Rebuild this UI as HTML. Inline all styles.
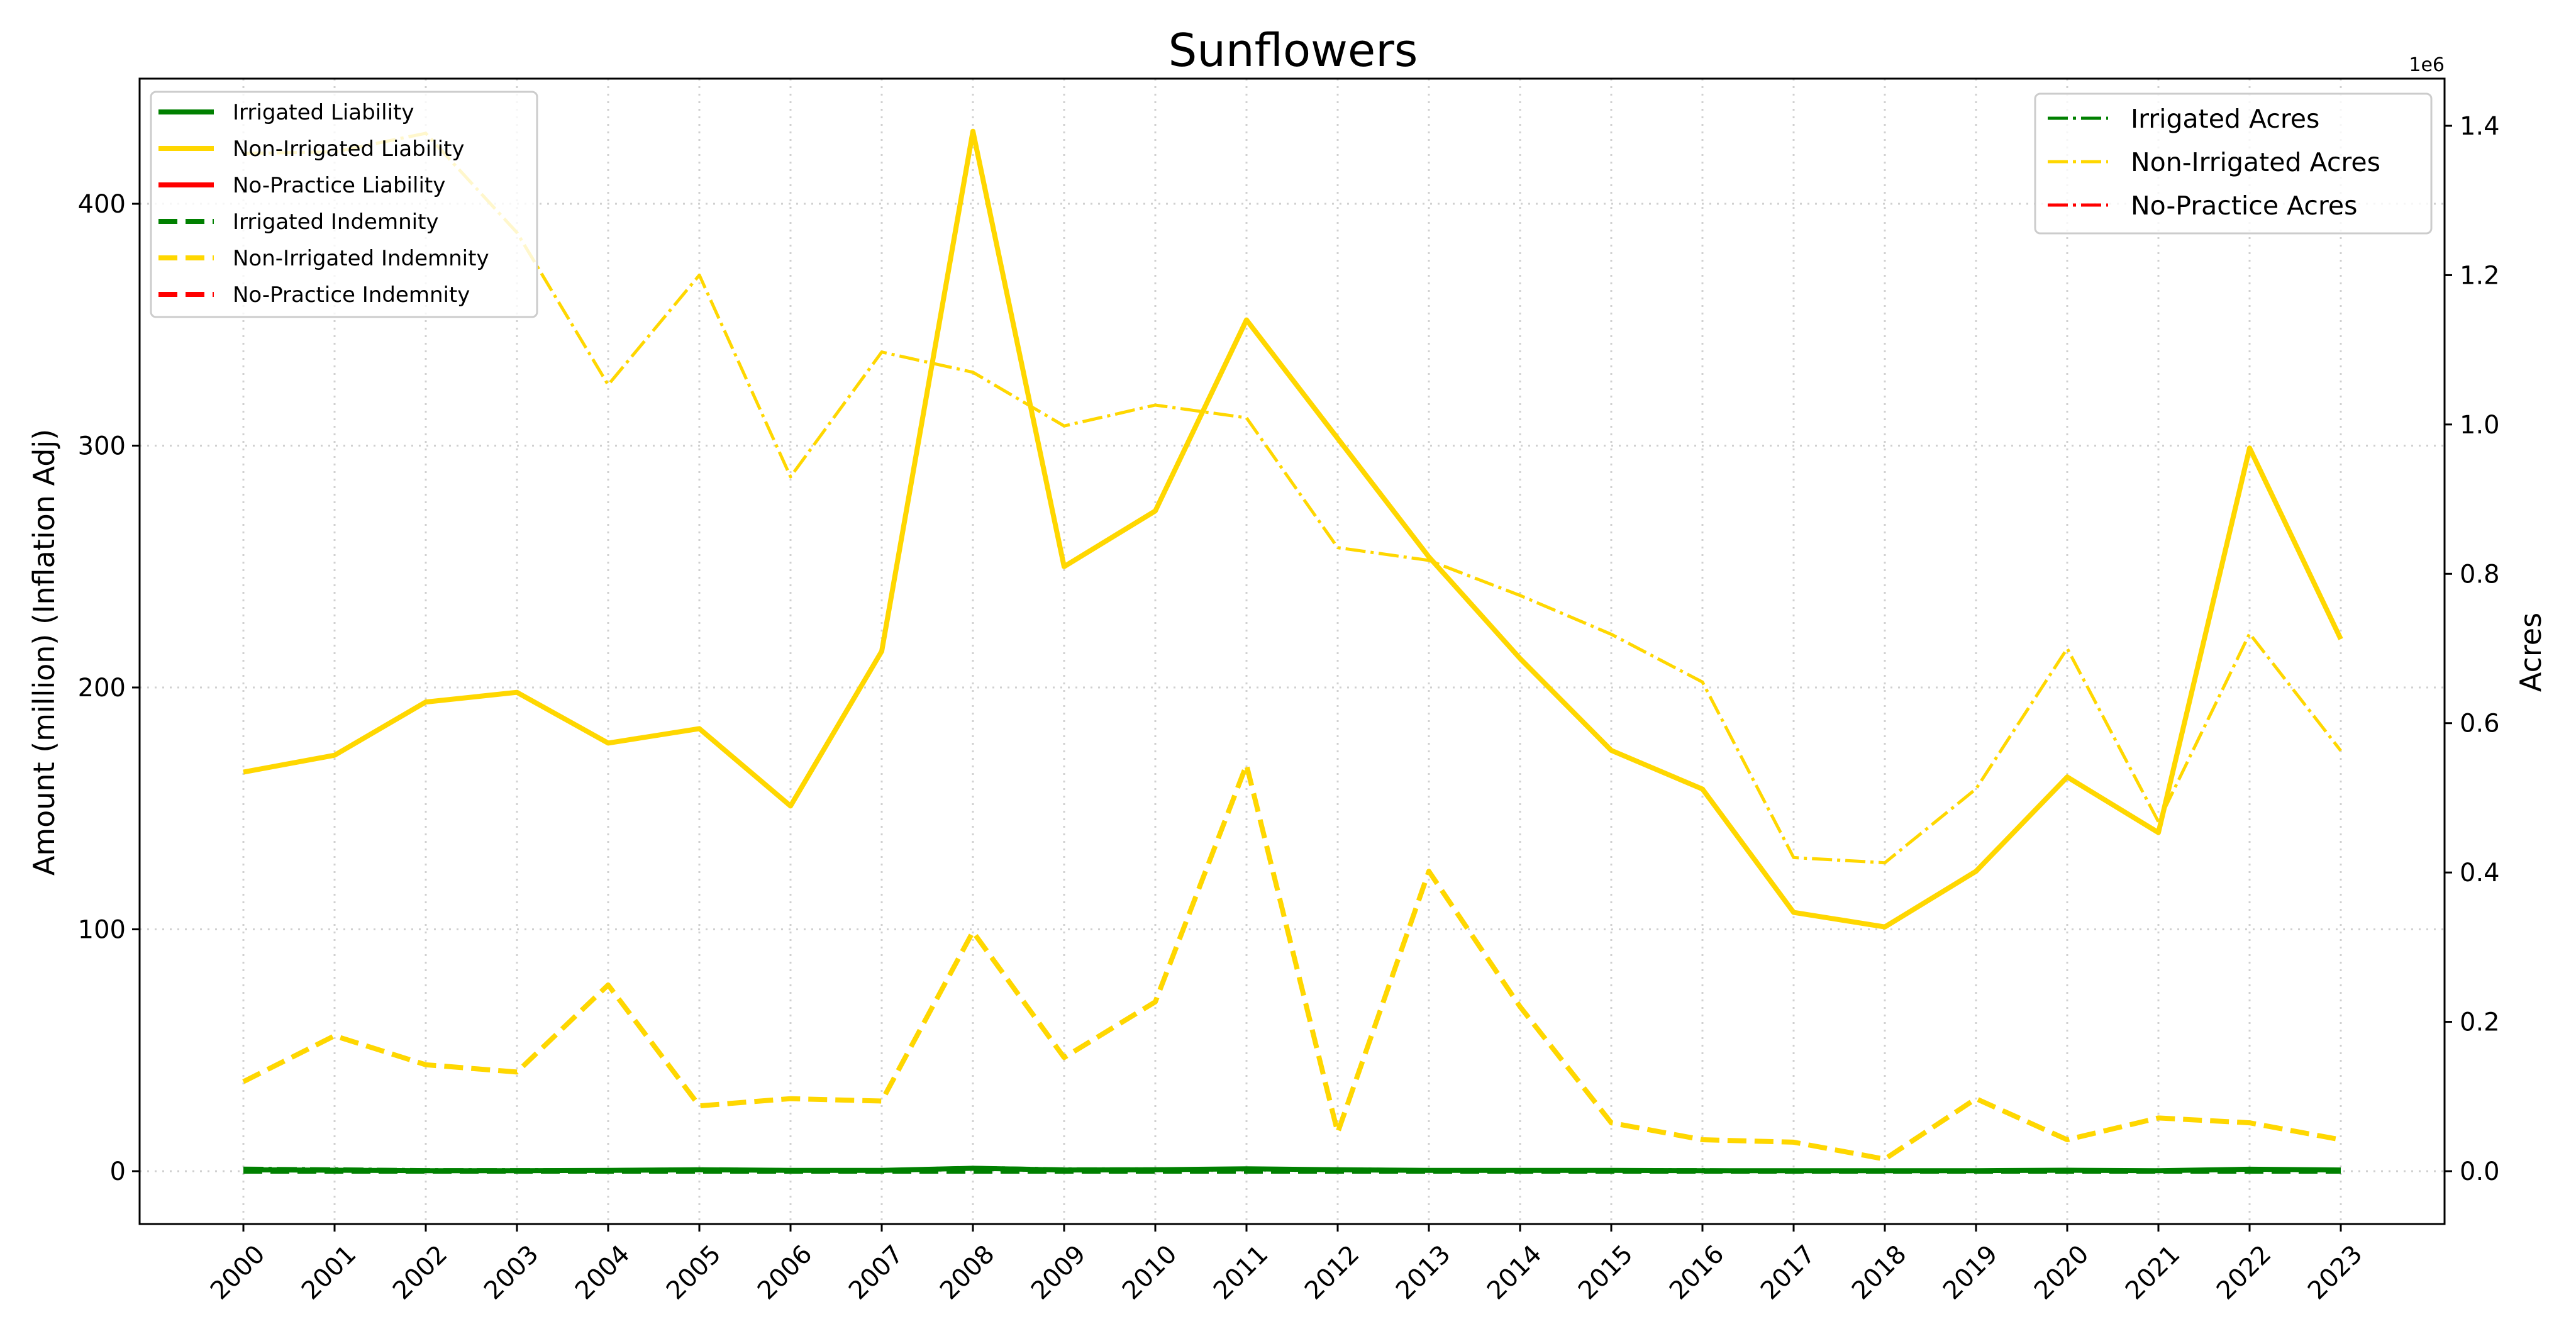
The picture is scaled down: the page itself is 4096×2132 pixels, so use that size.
<!DOCTYPE html>
<html><head><meta charset="utf-8"><style>
html,body{margin:0;padding:0;background:#fff;}
svg{display:block;font-family:"DejaVu Sans","Liberation Sans",sans-serif;}
</style></head><body>
<svg id="chart" width="4096" height="2132" viewBox="0 0 4096 2132" xmlns="http://www.w3.org/2000/svg">
<rect width="4096" height="2132" fill="#fff"/>
<text x="2056" y="105" font-size="72" text-anchor="middle">Sunflowers</text>
<g id="grid"></g>
<g id="series"></g>
<rect x="222" y="125" width="3665" height="1821" fill="none" stroke="#000" stroke-width="3"/>
<g id="axes"></g>
<text transform="translate(86,1037) rotate(-90)" font-size="46" text-anchor="middle">Amount (million) (Inflation Adj)</text>
<text transform="translate(4040,1037) rotate(-90)" font-size="46" text-anchor="middle">Acres</text>
<text x="3887" y="113" font-size="30" text-anchor="end">1e6</text>
<g id="legend1"></g>
<g id="legend2"></g>
</svg>
<script>
const years = [2000,2001,2002,2003,2004,2005,2006,2007,2008,2009,2010,2011,2012,2013,2014,2015,2016,2017,2018,2019,2020,2021,2022,2023];
const nonIrrLiability = [165,172,194,198,177,183,151,215,430,250,273,352,303,254,212,174,158,107,101,124,163,140,299,220];
const nonIrrIndemnity = [37,56,44,41,77,27,30,29,99,47,70,168,16,124,68,20,13,12,5,30,13,22,20,13];
const irrLiability = [0.6,0.4,0.2,0.2,0.3,0.6,0.3,0.3,1.2,0.5,0.6,1.0,0.6,0.3,0.3,0.3,0.2,0.2,0.2,0.2,0.4,0.2,0.8,0.5];
const irrIndemnity = [0,0,0,0,0,0,0,0,0,0,0,0,0,0,0,0,0,0,0,0,0,0,0,0];
const nonIrrAcres = [1363000,1365000,1390000,1257000,1053000,1200000,930000,1097000,1070000,998000,1026000,1009000,835000,818000,771000,719000,655000,420000,413000,512000,700000,468000,720000,563000];
const irrAcres = [4000,3000,2000,2000,2000,3000,2000,2000,5000,3000,3000,4000,3000,2000,2000,2000,2000,1000,1000,1000,2000,1000,3000,2000];
const leftTicks = [0,100,200,300,400];
const rightTicks = [0,200000,400000,600000,800000,1000000,1200000,1400000];
const rightTickLabels = ["0.0","0.2","0.4","0.6","0.8","1.0","1.2","1.4"];

const NS="http://www.w3.org/2000/svg";
const X0=222,X1=3887,Y0=125,Y1=1946;
const x = i => 387 + i*(3722-387)/23;
const yL = v => 1862 - v*(1862-324)/400;
const yR = v => 1862 - v*(1862-200)/1400000;
function mk(tag, attrs, parent){const e=document.createElementNS(NS,tag);for(const k in attrs)e.setAttribute(k,attrs[k]);parent.appendChild(e);return e;}
const grid=document.getElementById('grid'), axes=document.getElementById('axes'), series=document.getElementById('series');

years.forEach((yr,i)=>{
  const gl=mk('line',{x1:x(i),x2:x(i),y1:Y0,y2:Y1,stroke:'#d0d0d0','stroke-width':3,'stroke-dasharray':'3,9'},grid);
  
  
  const tk=mk('line',{x1:x(i),x2:x(i),y1:Y1,y2:Y1+12,stroke:'#000','stroke-width':3},axes);
  
  
  const t=mk('text',{transform:`translate(${x(i)+16},${Y1+30}) rotate(-45)`,'font-size':40,'text-anchor':'end','dominant-baseline':'hanging'},axes);
  t.textContent=yr;
  
  
});
leftTicks.forEach(v=>{
  const gl=mk('line',{x1:X0,x2:X1,y1:yL(v),y2:yL(v),stroke:'#d0d0d0','stroke-width':3,'stroke-dasharray':'3,9'},grid);
  
  
  const tk=mk('line',{x1:X0-12,x2:X0,y1:yL(v),y2:yL(v),stroke:'#000','stroke-width':3},axes);
  
  
  const t=mk('text',{x:X0-22,y:yL(v)+14,'font-size':40,'text-anchor':'end'},axes);
  t.textContent=v;
  
  
});
rightTicks.forEach((v,i)=>{
  const tk=mk('line',{x1:X1,x2:X1+12,y1:yR(v),y2:yR(v),stroke:'#000','stroke-width':3},axes);
  
  
  const t=mk('text',{x:X1+24,y:yR(v)+14,'font-size':40},axes);
  t.textContent=rightTickLabels[i];
  
  
});
function line(vals, yf, color, w, dash, name){
  const p=vals.map((v,i)=>(i?'L':'M')+x(i).toFixed(1)+','+yf(v).toFixed(1)).join('');
  const a={d:p,fill:'none',stroke:color,'stroke-width':w,'stroke-linejoin':'round'};
  if(dash)a['stroke-dasharray']=dash;
  const e=mk('path',a,series);
  
  
}
line(nonIrrAcres,yR,'#ffd700',5,'32,8,5,8','non-irrigated-acres-line');
line(irrAcres,yR,'#008000',5,'32,8,5,8','irrigated-acres-line');
line(nonIrrLiability,yL,'#ffd700',8,null,'non-irrigated-liability-line');
line(nonIrrIndemnity,yL,'#ffd700',8,'30,13','non-irrigated-indemnity-line');
line(irrIndemnity,yL,'#008000',8,'30,13','irrigated-indemnity-line');
line(irrLiability,yL,'#008000',8,null,'irrigated-liability-line');

const l1=document.getElementById('legend1');
const bg1=mk('rect',{x:240,y:146,width:614,height:358,rx:8,fill:'#fff','fill-opacity':0.8,stroke:'#ccc','stroke-width':3},l1);


const leg1=[['Irrigated Liability','#008000',null],['Non-Irrigated Liability','#ffd700',null],['No-Practice Liability','#ff0000',null],['Irrigated Indemnity','#008000','30,13'],['Non-Irrigated Indemnity','#ffd700','30,13'],['No-Practice Indemnity','#ff0000','30,13']];
leg1.forEach((e,i)=>{
  const yy=178+i*58;
  const a={x1:252,x2:340,y1:yy,y2:yy,stroke:e[1],'stroke-width':8};
  if(e[2])a['stroke-dasharray']=e[2];
  const ln=mk('line',a,l1);
  
  
  const t=mk('text',{x:370,y:yy+12,'font-size':34},l1);
  t.textContent=e[0];
  
  
});
const l2=document.getElementById('legend2');
const bg2=mk('rect',{x:3236,y:149,width:630,height:222,rx:8,fill:'#fff','fill-opacity':0.8,stroke:'#ccc','stroke-width':3},l2);


const leg2=[['Irrigated Acres','#008000'],['Non-Irrigated Acres','#ffd700'],['No-Practice Acres','#ff0000']];
leg2.forEach((e,i)=>{
  const yy=188+i*69;
  const ln=mk('line',{x1:3256,x2:3352,y1:yy,y2:yy,stroke:e[1],'stroke-width':5,'stroke-dasharray':'32,8,5,8'},l2);
  
  
  const t=mk('text',{x:3388,y:yy+15,'font-size':41},l2);
  t.textContent=e[0];
  
  
});
</script>
</body></html>
